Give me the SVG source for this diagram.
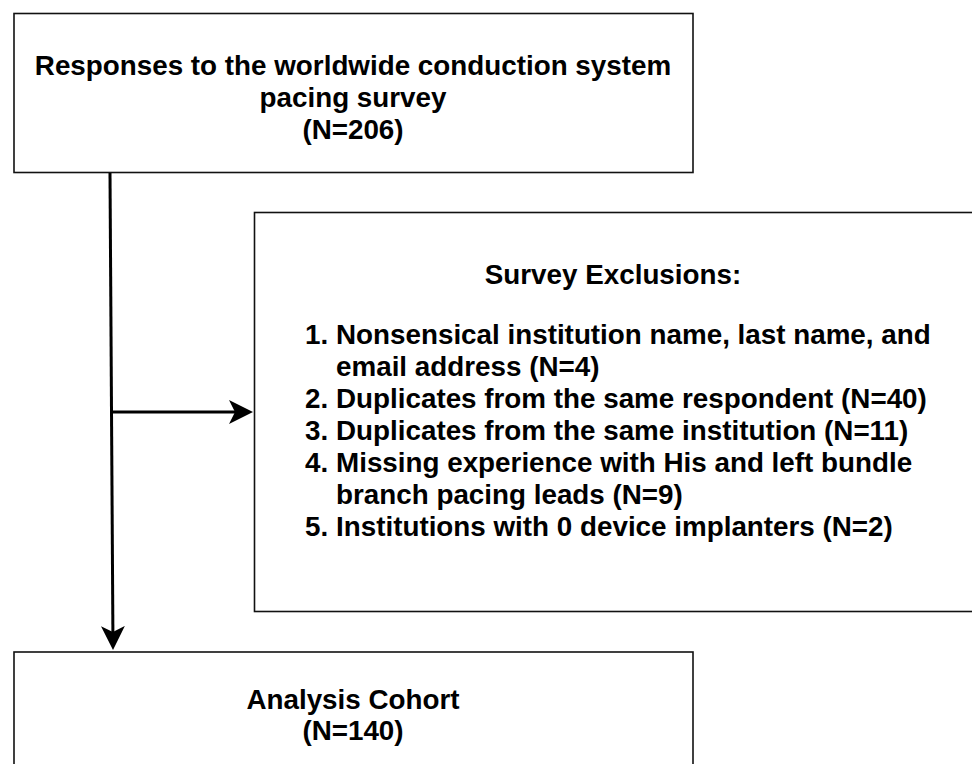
<svg xmlns="http://www.w3.org/2000/svg" width="972" height="764" viewBox="0 0 972 764">
<style>
.box{fill:#fff;stroke:#111;stroke-width:1.6}
.t{font-family:"Liberation Sans",Arial,sans-serif;font-weight:bold;font-size:27.8px;fill:#000}
.c{text-anchor:middle}
.edge{fill:none;stroke:#000;stroke-width:3}
</style>
<defs>
<marker id="arr" viewBox="0 0 24 24" refX="6" refY="12" markerWidth="24" markerHeight="24" markerUnits="userSpaceOnUse" orient="auto">
<path d="M0,0 L24,12 L0,24 L6,12 z" fill="#000"/>
</marker>
</defs>
<g id="node-responses">
<rect class="box" x="14" y="13.5" width="679" height="159"/>
<text class="t c" x="353" y="74.5">Responses to the worldwide conduction system</text>
<text class="t c" x="353" y="106.5">pacing survey</text>
<text class="t c" x="353" y="138.5">(N=206)</text>
</g>
<g id="node-exclusions">
<rect class="box" x="254.5" y="212.5" width="730" height="399"/>
<text class="t c" x="613" y="284">Survey Exclusions:</text>
<text class="t" x="305" y="344">1.</text>
<text class="t" x="336" y="344">Nonsensical institution name, last name, and</text>
<text class="t" x="336" y="376">email address (N=4)</text>
<text class="t" x="305" y="408">2.</text>
<text class="t" x="336" y="408">Duplicates from the same respondent (N=40)</text>
<text class="t" x="305" y="440">3.</text>
<text class="t" x="336" y="440">Duplicates from the same institution (N=11)</text>
<text class="t" x="305" y="472">4.</text>
<text class="t" x="336" y="472">Missing experience with His and left bundle</text>
<text class="t" x="336" y="504">branch pacing leads (N=9)</text>
<text class="t" x="305" y="536">5.</text>
<text class="t" x="336" y="536">Institutions with 0 device implanters (N=2)</text>
</g>
<g id="node-cohort">
<rect class="box" x="14" y="652" width="679" height="130"/>
<text class="t c" x="353" y="709">Analysis Cohort</text>
<text class="t c" x="353" y="740">(N=140)</text>
</g>
<g id="connectors">
<path class="edge" d="M110,173 L112.9,632" marker-end="url(#arr)"/>
<path class="edge" d="M112,412 L235,412" marker-end="url(#arr)"/>
</g>
</svg>
